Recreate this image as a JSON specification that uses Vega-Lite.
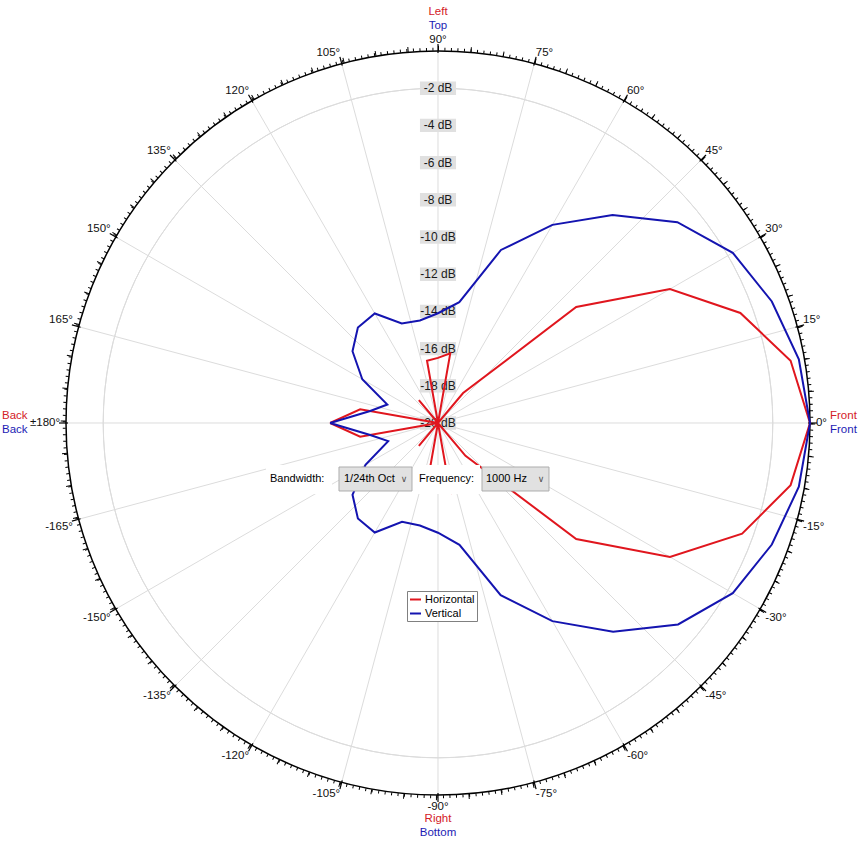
{
  "$schema": "https://vega.github.io/schema/vega-lite/v6.json",
  "width": 862,
  "height": 843,
  "padding": 0,
  "autosize": "none",
  "background": "white",
  "config": {"view": {"stroke": null}, "text": {"font": "Liberation Sans"}},
  "encoding": {
    "x": {"field": "px", "type": "quantitative", "scale": {"domain": [-23.548, 22.796], "nice": false, "zero": false}, "axis": null},
    "y": {"field": "py", "type": "quantitative", "scale": {"domain": [-22.581, 22.742], "nice": false, "zero": false}, "axis": null}
  },
  "layer": [
    {
      "data": {"values": [{"db": -2}, {"db": -4}, {"db": -6}, {"db": -8}, {"db": -10}, {"db": -12}, {"db": -14}, {"db": -16}, {"db": -18}]},
      "transform": [{"calculate": "datum.db + 20", "as": "r"}, {"calculate": "0", "as": "px"}, {"calculate": "0", "as": "py"}],
      "mark": {"type": "arc", "filled": false, "stroke": "#dcdcdc", "strokeWidth": 1, "theta": 0, "theta2": 6.2832},
      "encoding": {"radius": {"field": "r", "type": "quantitative", "scale": {"type": "linear", "domain": [0, 20], "range": [0, 372], "zero": true, "nice": false}}}
    },
    {
      "data": {"name": "ticks", "values": [
        {"a": 0, "t": "0°"}, {"a": 15, "t": "15°"}, {"a": 30, "t": "30°"}, {"a": 45, "t": "45°"}, {"a": 60, "t": "60°"}, {"a": 75, "t": "75°"},
        {"a": 90, "t": "90°"}, {"a": 105, "t": "105°"}, {"a": 120, "t": "120°"}, {"a": 135, "t": "135°"}, {"a": 150, "t": "150°"}, {"a": 165, "t": "165°"},
        {"a": 180, "t": "±180°"}, {"a": -165, "t": "-165°"}, {"a": -150, "t": "-150°"}, {"a": -135, "t": "-135°"}, {"a": -120, "t": "-120°"}, {"a": -105, "t": "-105°"},
        {"a": -90, "t": "-90°"}, {"a": -75, "t": "-75°"}, {"a": -60, "t": "-60°"}, {"a": -45, "t": "-45°"}, {"a": -30, "t": "-30°"}, {"a": -15, "t": "-15°"}
      ]},
      "transform": [
        {"calculate": "0", "as": "px"}, {"calculate": "0", "as": "py"},
        {"calculate": "20*cos(datum.a*PI/180)", "as": "px2"}, {"calculate": "20*sin(datum.a*PI/180)", "as": "py2"}
      ],
      "mark": {"type": "rule", "stroke": "#dcdcdc", "strokeWidth": 1},
      "encoding": {"x2": {"field": "px2"}, "y2": {"field": "py2"}}
    },
    {
      "data": {"values": [{"db": 0}]},
      "transform": [{"calculate": "datum.db + 20", "as": "r"}, {"calculate": "0", "as": "px"}, {"calculate": "0", "as": "py"}],
      "mark": {"type": "arc", "filled": false, "stroke": "#000000", "strokeWidth": 1.5, "theta": 0, "theta2": 6.2832},
      "encoding": {"radius": {"field": "r", "type": "quantitative"}}
    },
    {
      "data": {"values": [{"db": 0}]},
      "transform": [{"calculate": "20.094", "as": "r"}, {"calculate": "0", "as": "px"}, {"calculate": "0", "as": "py"}],
      "mark": {"type": "arc", "filled": false, "stroke": "#000000", "strokeWidth": 3, "strokeDash": [1, 5.523], "theta": 0, "theta2": 6.2832},
      "encoding": {"radius": {"field": "r", "type": "quantitative"}}
    },
    {
      "data": {"values": [{"db": 0}]},
      "transform": [{"calculate": "20.148", "as": "r"}, {"calculate": "0", "as": "px"}, {"calculate": "0", "as": "py"}],
      "mark": {"type": "arc", "filled": false, "stroke": "#000000", "strokeWidth": 5, "strokeDash": [1, 31.72], "theta": 0, "theta2": 6.2832},
      "encoding": {"radius": {"field": "r", "type": "quantitative"}}
    },
    {
      "data": {"name": "ticks"},
      "transform": [
        {"calculate": "19.892*cos(datum.a*PI/180)", "as": "px"}, {"calculate": "19.892*sin(datum.a*PI/180)", "as": "py"},
        {"calculate": "20.376*cos(datum.a*PI/180)", "as": "px2"}, {"calculate": "20.376*sin(datum.a*PI/180)", "as": "py2"}
      ],
      "mark": {"type": "rule", "stroke": "#000000", "strokeWidth": 1.2},
      "encoding": {"x2": {"field": "px2"}, "y2": {"field": "py2"}}
    },
    {
      "data": {"name": "ticks"},
      "transform": [
        {"calculate": "20.32*cos(datum.a*PI/180)", "as": "px"}, {"calculate": "20.32*sin(datum.a*PI/180)", "as": "py"}
      ],
      "mark": {"type": "text", "fontSize": 11.5, "color": "#111111",
        "align": {"expr": "cos(datum.a*PI/180) > 0.2 ? 'left' : (cos(datum.a*PI/180) < -0.2 ? 'right' : 'center')"},
        "baseline": {"expr": "sin(datum.a*PI/180) > 0.2 ? 'bottom' : (sin(datum.a*PI/180) < -0.2 ? 'top' : 'middle')"}},
      "encoding": {"text": {"field": "t"}}
    },
    {
      "data": {"values": [{"t": "Left"}, {"t": "Right"}]},
      "transform": [{"calculate": "0", "as": "px"}, {"calculate": "datum.t == 'Left' ? 22.097 : -21.29", "as": "py"}],
      "mark": {"type": "text", "fontSize": 11.5, "color": "#d42027", "align": "center", "baseline": "middle"},
      "encoding": {"text": {"field": "t"}}
    },
    {
      "data": {"values": [{"t": "Top"}, {"t": "Bottom"}]},
      "transform": [{"calculate": "0", "as": "px"}, {"calculate": "datum.t == 'Top' ? 21.344 : -22.043", "as": "py"}],
      "mark": {"type": "text", "fontSize": 11.5, "color": "#1c1cb4", "align": "center", "baseline": "middle"},
      "encoding": {"text": {"field": "t"}}
    },
    {
      "data": {"values": [{"t": "Back"}, {"t": "Front"}]},
      "transform": [{"calculate": "datum.t == 'Back' ? -23.441 : 21.075", "as": "px"}, {"calculate": "0.376", "as": "py"}],
      "mark": {"type": "text", "fontSize": 11.5, "color": "#d42027", "align": "left", "baseline": "middle"},
      "encoding": {"text": {"field": "t"}}
    },
    {
      "data": {"values": [{"t": "Back"}, {"t": "Front"}]},
      "transform": [{"calculate": "datum.t == 'Back' ? -23.441 : 21.075", "as": "px"}, {"calculate": "-0.376", "as": "py"}],
      "mark": {"type": "text", "fontSize": 11.5, "color": "#1c1cb4", "align": "left", "baseline": "middle"},
      "encoding": {"text": {"field": "t"}}
    },
    {
      "data": {"name": "dblabels", "values": [
        {"db": -2, "t": "-2 dB"}, {"db": -4, "t": "-4 dB"}, {"db": -6, "t": "-6 dB"}, {"db": -8, "t": "-8 dB"}, {"db": -10, "t": "-10 dB"},
        {"db": -12, "t": "-12 dB"}, {"db": -14, "t": "-14 dB"}, {"db": -16, "t": "-16 dB"}, {"db": -18, "t": "-18 dB"}, {"db": -20, "t": "-20 dB"}
      ]},
      "transform": [
        {"calculate": "-0.97", "as": "px"}, {"calculate": "0.97", "as": "px2"},
        {"calculate": "datum.db + 20 - 0.36", "as": "py"}, {"calculate": "datum.db + 20 + 0.36", "as": "py2"}
      ],
      "mark": {"type": "rect", "color": "#e0e0e0"},
      "encoding": {"x2": {"field": "px2"}, "y2": {"field": "py2"}}
    },
    {
      "data": {"name": "dblabels"},
      "transform": [{"calculate": "0", "as": "px"}, {"calculate": "datum.db + 20", "as": "py"}],
      "mark": {"type": "text", "fontSize": 12, "color": "#1a1a1a", "align": "center", "baseline": "middle"},
      "encoding": {"text": {"field": "t"}}
    },
    {
      "data": {"values": [
        {"angle": -180, "db": -14.2, "series": "Horizontal"}, {"angle": -170, "db": -15.75, "series": "Horizontal"}, {"angle": -160, "db": -20, "series": "Horizontal"},
        {"angle": -150, "db": -20, "series": "Horizontal"}, {"angle": -140, "db": -20, "series": "Horizontal"}, {"angle": -130, "db": -18.4, "series": "Horizontal"},
        {"angle": -120, "db": -20, "series": "Horizontal"}, {"angle": -110, "db": -20, "series": "Horizontal"}, {"angle": -100, "db": -16.6, "series": "Horizontal"},
        {"angle": -90, "db": -16.5, "series": "Horizontal"}, {"angle": -80, "db": -16.2, "series": "Horizontal"}, {"angle": -70, "db": -20, "series": "Horizontal"},
        {"angle": -60, "db": -20, "series": "Horizontal"}, {"angle": -50, "db": -17.7, "series": "Horizontal"}, {"angle": -40, "db": -10.3, "series": "Horizontal"},
        {"angle": -30, "db": -5.6, "series": "Horizontal"}, {"angle": -20, "db": -2.6, "series": "Horizontal"}, {"angle": -10, "db": -0.75, "series": "Horizontal"},
        {"angle": 0, "db": 0, "series": "Horizontal"}, {"angle": 10, "db": -0.75, "series": "Horizontal"}, {"angle": 20, "db": -2.7, "series": "Horizontal"},
        {"angle": 30, "db": -5.6, "series": "Horizontal"}, {"angle": 40, "db": -10.3, "series": "Horizontal"}, {"angle": 50, "db": -17.9, "series": "Horizontal"},
        {"angle": 60, "db": -20, "series": "Horizontal"}, {"angle": 70, "db": -20, "series": "Horizontal"}, {"angle": 80, "db": -16.2, "series": "Horizontal"},
        {"angle": 90, "db": -16.5, "series": "Horizontal"}, {"angle": 100, "db": -16.6, "series": "Horizontal"}, {"angle": 110, "db": -20, "series": "Horizontal"},
        {"angle": 120, "db": -20, "series": "Horizontal"}, {"angle": 130, "db": -18.4, "series": "Horizontal"}, {"angle": 140, "db": -20, "series": "Horizontal"},
        {"angle": 150, "db": -20, "series": "Horizontal"}, {"angle": 160, "db": -20, "series": "Horizontal"}, {"angle": 170, "db": -15.75, "series": "Horizontal"},
        {"angle": 180, "db": -14.2, "series": "Horizontal"},
        {"angle": -180, "db": -14.2, "series": "Vertical"}, {"angle": -170, "db": -16.3, "series": "Vertical"}, {"angle": -160, "db": -17.15, "series": "Vertical"},
        {"angle": -150, "db": -15.5, "series": "Vertical"}, {"angle": -140, "db": -14.0, "series": "Vertical"}, {"angle": -130, "db": -13.3, "series": "Vertical"},
        {"angle": -120, "db": -13.2, "series": "Vertical"}, {"angle": -110, "db": -14.35, "series": "Vertical"}, {"angle": -100, "db": -14.4, "series": "Vertical"},
        {"angle": -90, "db": -14.1, "series": "Vertical"}, {"angle": -80, "db": -13.35, "series": "Vertical"}, {"angle": -70, "db": -10.15, "series": "Vertical"},
        {"angle": -60, "db": -7.7, "series": "Vertical"}, {"angle": -50, "db": -5.35, "series": "Vertical"}, {"angle": -40, "db": -3.15, "series": "Vertical"},
        {"angle": -30, "db": -1.7, "series": "Vertical"}, {"angle": -20, "db": -0.9, "series": "Vertical"}, {"angle": -10, "db": -0.3, "series": "Vertical"},
        {"angle": 0, "db": 0, "series": "Vertical"}, {"angle": 10, "db": -0.3, "series": "Vertical"}, {"angle": 20, "db": -0.9, "series": "Vertical"},
        {"angle": 30, "db": -1.7, "series": "Vertical"}, {"angle": 40, "db": -3.2, "series": "Vertical"}, {"angle": 50, "db": -5.4, "series": "Vertical"},
        {"angle": 60, "db": -7.7, "series": "Vertical"}, {"angle": 70, "db": -10.1, "series": "Vertical"}, {"angle": 80, "db": -13.4, "series": "Vertical"},
        {"angle": 90, "db": -14.1, "series": "Vertical"}, {"angle": 100, "db": -14.4, "series": "Vertical"}, {"angle": 110, "db": -14.3, "series": "Vertical"},
        {"angle": 120, "db": -13.2, "series": "Vertical"}, {"angle": 130, "db": -13.3, "series": "Vertical"}, {"angle": 140, "db": -14.0, "series": "Vertical"},
        {"angle": 150, "db": -15.3, "series": "Vertical"}, {"angle": 160, "db": -17.1, "series": "Vertical"}, {"angle": 170, "db": -16.3, "series": "Vertical"},
        {"angle": 180, "db": -14.2, "series": "Vertical"}
      ]},
      "transform": [
        {"calculate": "(datum.db + 20)*cos(datum.angle*PI/180)", "as": "px"},
        {"calculate": "(datum.db + 20)*sin(datum.angle*PI/180)", "as": "py"}
      ],
      "mark": {"type": "line", "strokeWidth": 2},
      "encoding": {
        "order": {"field": "angle", "type": "quantitative"},
        "color": {"field": "series", "type": "nominal",
          "scale": {"domain": ["Horizontal", "Vertical"], "range": ["#e0161e", "#1414b0"]},
          "legend": {"orient": "none", "legendX": 407, "legendY": 591, "title": null, "symbolType": "stroke", "symbolStrokeWidth": 2,
            "symbolSize": 121, "strokeColor": "#808080", "fillColor": "#ffffff", "padding": 2, "labelFont": "Liberation Sans",
            "labelFontSize": 11, "labelColor": "#000000", "rowPadding": 2, "labelOffset": 3, "cornerRadius": 0}}
      }
    },
    {
      "data": {"values": [{"k": "bw"}, {"k": "fr"}]},
      "transform": [
        {"calculate": "datum.k == 'bw' ? -9.247 : -1.29", "as": "px"}, {"calculate": "datum.k == 'bw' ? -5.699 : 2.258", "as": "px2"},
        {"calculate": "-2.26", "as": "py"}, {"calculate": "-3.82", "as": "py2"}
      ],
      "mark": {"type": "rect", "color": "#ffffff"},
      "encoding": {"x2": {"field": "px2"}, "y2": {"field": "py2"}}
    },
    {
      "data": {"values": [{"k": "bw"}, {"k": "fr"}]},
      "transform": [
        {"calculate": "datum.k == 'bw' ? -5.323 : 2.366", "as": "px"}, {"calculate": "datum.k == 'bw' ? -1.398 : 5.968", "as": "px2"},
        {"calculate": "-2.366", "as": "py"}, {"calculate": "-3.656", "as": "py2"}
      ],
      "mark": {"type": "rect", "fill": "#e1e1e1", "stroke": "#adadad", "strokeWidth": 1},
      "encoding": {"x2": {"field": "px2"}, "y2": {"field": "py2"}}
    },
    {
      "data": {"values": [{"t": "Bandwidth:", "k": 0}, {"t": "1/24th Oct", "k": 1}, {"t": "Frequency:", "k": 2}, {"t": "1000 Hz", "k": 3}]},
      "transform": [
        {"calculate": "[-9.032, -5.054, -1.022, 2.581][datum.k]", "as": "px"}, {"calculate": "-3.011", "as": "py"}
      ],
      "mark": {"type": "text", "fontSize": 11, "color": "#000000", "align": "left", "baseline": "middle"},
      "encoding": {"text": {"field": "t"}}
    },
    {
      "data": {"values": [{"t": "∨", "k": 0}, {"t": "∨", "k": 1}]},
      "transform": [
        {"calculate": "datum.k == 0 ? -1.828 : 5.538", "as": "px"}, {"calculate": "-3.011", "as": "py"}
      ],
      "mark": {"type": "text", "font": "DejaVu Sans", "fontSize": 9, "color": "#505050", "align": "center", "baseline": "middle"},
      "encoding": {"text": {"field": "t"}}
    }
  ]
}
